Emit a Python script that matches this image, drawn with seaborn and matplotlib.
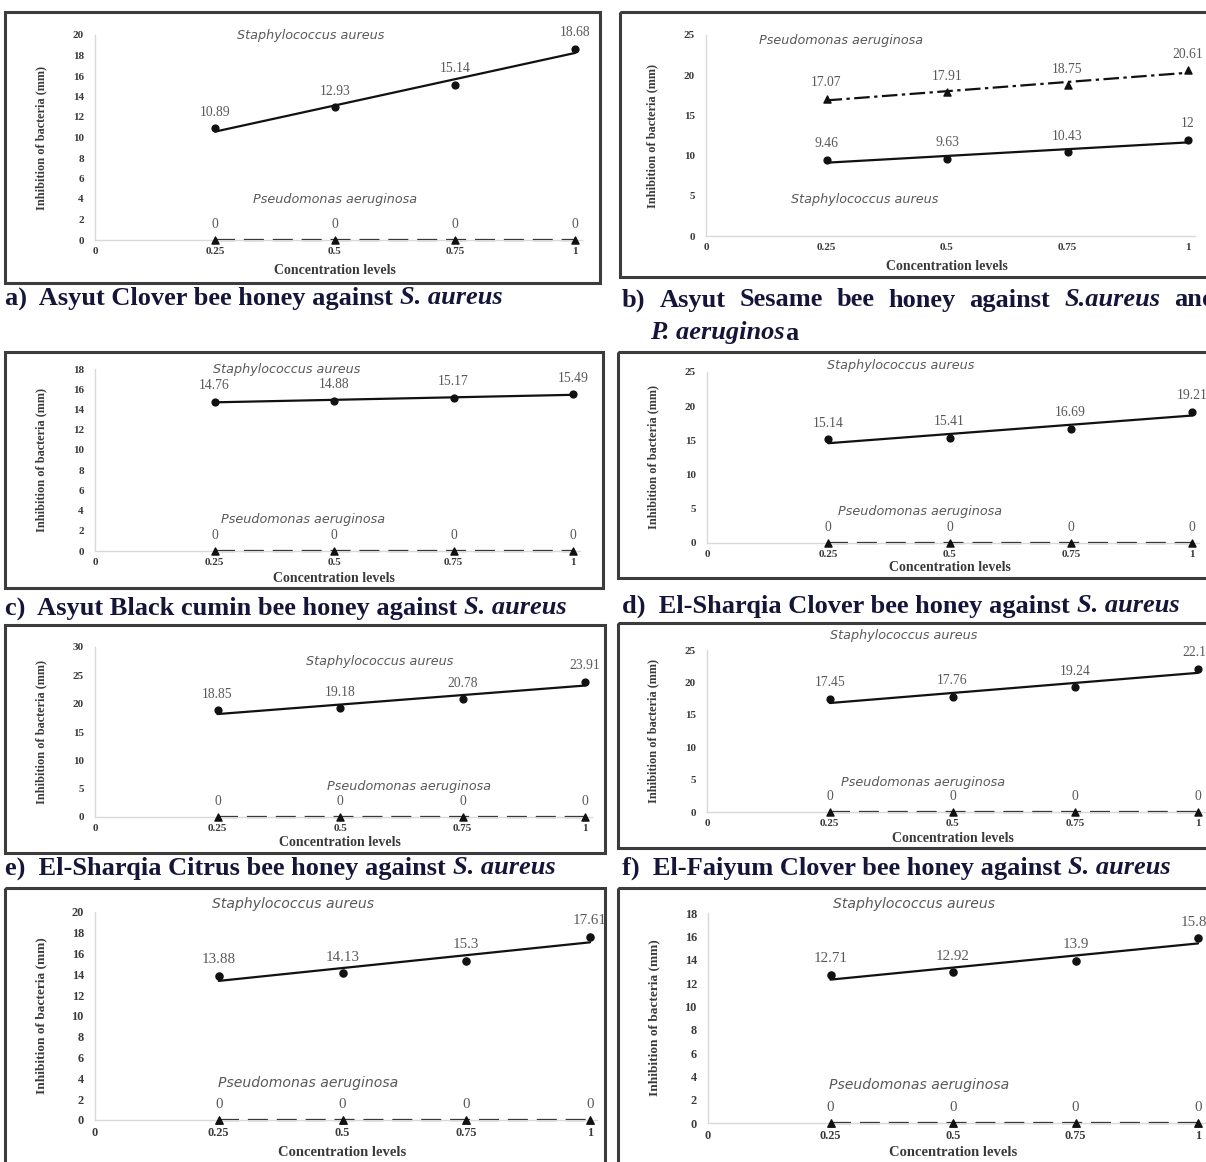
import numpy as np
import matplotlib.pyplot as plt
from matplotlib.patches import Rectangle
import seaborn as sns

sns.set_theme(style="white", font="Liberation Serif")
plt.rcParams['font.family'] = ['Liberation Serif', 'DejaVu Sans']

# concentration levels on the x axis
conc = [0.25, 0.5, 0.75, 1]
xtick_vals = [0, 0.25, 0.5, 0.75, 1]
xtick_labels = ['0', '0.25', '0.5', '0.75', '1']

# inhibition zone (mm), S. aureus / P. aeruginosa
a_sa = [10.89, 12.93, 15.14, 18.68]
a_pa = [0, 0, 0, 0]
b_sa = [9.46, 9.63, 10.43, 12]
b_pa = [17.07, 17.91, 18.75, 20.61]
c_sa = [14.76, 14.88, 15.17, 15.49]
c_pa = [0, 0, 0, 0]
d_sa = [15.14, 15.41, 16.69, 19.21]
d_pa = [0, 0, 0, 0]
e_sa = [18.85, 19.18, 20.78, 23.91]
e_pa = [0, 0, 0, 0]
f_sa = [17.45, 17.76, 19.24, 22.13]
f_pa = [0, 0, 0, 0]
g_sa = [13.88, 14.13, 15.3, 17.61]
g_pa = [0, 0, 0, 0]
h_sa = [12.71, 12.92, 13.9, 15.83]
h_pa = [0, 0, 0, 0]

W, H = 1206, 1162
XMAX = 1.015
CAP = '#15153a'
GREY = '#595959'
AXC = '#3a3a3a'
CAP_FS = 19

fig = plt.figure(figsize=(W / 100, H / 100), dpi=100)
ax0 = fig.add_axes([0, 0, 1, 1])
ax0.set_xlim(0, W)
ax0.set_ylim(H, 0)
ax0.axis('off')

# layout of each panel in pixels: box, axes (x at 0, x at 1, y at 0, y at top)
panels = [
    dict(sa=a_sa, pa=a_pa, box=(5, 12, 600, 283), axes=(95, 575, 240, 35), ymax=20, ystep=2,
         staph=(0.45, 20.0), pseudo=(0.5, 4.0), fs=1.0, xl=30, pa_ls=(0, (9, 4))),
    dict(sa=b_sa, pa=b_pa, box=(620, 12, 1212, 277), axes=(706, 1188, 236, 35), ymax=25, ystep=5,
         staph=(0.33, 4.5), pseudo=(0.28, 24.3), fs=1.0, xl=30, pa_ls=(0, (7, 2, 1.5, 2))),
    dict(sa=c_sa, pa=c_pa, box=(5, 352, 603, 588), axes=(95, 573, 551, 369), ymax=18, ystep=2,
         staph=(0.40, 18.0), pseudo=(0.435, 3.1), fs=1.0, xl=27, pa_ls=(0, (9, 4))),
    dict(sa=d_sa, pa=d_pa, box=(618, 352, 1212, 578), axes=(707, 1192, 543, 372), ymax=25, ystep=5,
         staph=(0.40, 26.0), pseudo=(0.44, 4.6), fs=1.0, xl=25, pa_ls=(0, (9, 4))),
    dict(sa=e_sa, pa=e_pa, box=(5, 625, 605, 853), axes=(95, 585, 817, 647), ymax=30, ystep=5,
         staph=(0.58, 27.5), pseudo=(0.64, 5.3), fs=1.0, xl=26, pa_ls=(0, (9, 4))),
    dict(sa=f_sa, pa=f_pa, box=(618, 623, 1212, 848), axes=(707, 1198, 812, 650), ymax=25, ystep=5,
         staph=(0.40, 27.2), pseudo=(0.44, 4.5), fs=1.0, xl=26, pa_ls=(0, (9, 4))),
    dict(sa=g_sa, pa=g_pa, box=(5, 888, 605, 1175), axes=(95, 590, 1120, 912), ymax=20, ystep=2,
         staph=(0.40, 20.8), pseudo=(0.43, 3.6), fs=1.1, xl=32, pa_ls=(0, (9, 4))),
    dict(sa=h_sa, pa=h_pa, box=(618, 888, 1212, 1175), axes=(708, 1198, 1123, 913), ymax=18, ystep=2,
         staph=(0.42, 18.8), pseudo=(0.43, 3.3), fs=1.1, xl=30, pa_ls=(0, (9, 4))),
]


def draw_panel(p):
    l, t, r, b = p['box']
    ax0.add_patch(Rectangle((l, t), r - l, b - t, fill=False, lw=2.2, ec='#3c3c3c'))
    x0, x1, y0, ytop = p['axes']
    axw = (x1 - x0) * XMAX
    axh = y0 - ytop
    ax = fig.add_axes([x0 / W, 1 - y0 / H, axw / W, axh / H])
    ax.set_facecolor('none')
    fs = p['fs']

    sns.regplot(x=conc, y=p['sa'], ax=ax, ci=None, truncate=True, color='#111111', marker='o',
                scatter_kws=dict(s=24 * fs, zorder=3, clip_on=False, alpha=1),
                line_kws=dict(lw=1.6, clip_on=False))
    sns.regplot(x=conc, y=p['pa'], ax=ax, ci=None, truncate=True, color='#111111', marker='^',
                scatter_kws=dict(s=26 * fs, zorder=3, clip_on=False, alpha=1),
                line_kws=dict(lw=1.6, ls=p['pa_ls'], clip_on=False))

    # data labels above every point
    for vals in (p['sa'], p['pa']):
        for x, v in zip(conc, vals):
            ax.annotate(f'{v:g}', (x, v), xytext=(0, 11.5), textcoords='offset points',
                        ha='center', va='center', fontsize=9.8 * fs, color=GREY)

    ax.text(*p['staph'], 'Staphylococcus aureus', ha='center', va='center', style='italic',
            family='DejaVu Sans', color=GREY, fontsize=9.2 * fs)
    ax.text(*p['pseudo'], 'Pseudomonas aeruginosa', ha='center', va='center', style='italic',
            family='DejaVu Sans', color=GREY, fontsize=9.2 * fs)

    ax.set_xlim(0, XMAX)
    ax.set_ylim(0, p['ymax'])
    ax.set_xticks(xtick_vals, xtick_labels)
    ax.set_yticks(np.arange(0, p['ymax'] + 1, p['ystep']))
    ax.tick_params(length=0, labelsize=8 * fs, labelcolor=AXC)
    ax.tick_params(axis='y', pad=8)
    ax.tick_params(axis='x', pad=5)
    for lab in ax.get_xticklabels() + ax.get_yticklabels():
        lab.set_fontweight('bold')
    sns.despine(ax=ax)
    for s in ('left', 'bottom'):
        ax.spines[s].set_color('#d9d9d9')
        ax.spines[s].set_linewidth(1)

    ax.set_ylabel('Inhibition of bacteria (mm)', fontsize=8.8 * fs, fontweight='bold',
                  color=AXC, va='center')
    ax.yaxis.set_label_coords(-54 / axw, 0.5)
    ax.set_xlabel('Concentration levels', fontsize=10 * (1 + (fs - 1) / 2), fontweight='bold',
                  color=AXC, va='center')
    ax.xaxis.set_label_coords(0.5 / XMAX, -p['xl'] / axh)


def caption(x, y, parts, gap=5.0):
    prev = None
    for s, it in parts:
        kw = dict(fontsize=CAP_FS, fontweight='bold', style='italic' if it else 'normal',
                  color=CAP, va='center', ha='left')
        if prev is None:
            prev = ax0.text(x, y, s, **kw)
        else:
            prev = ax0.annotate(s, xy=(1, 0.5), xycoords=prev, xytext=(gap, 0),
                                textcoords='offset points', **kw)
    return prev


for p in panels:
    draw_panel(p)

caption(5, 298, [('a)  Asyut Clover bee honey against', False), ('S. aureus', True)])
caption(5, 608, [('c)  Asyut Black cumin bee honey against', False), ('S. aureus', True)])
caption(5, 868, [('e)  El-Sharqia Citrus bee honey against', False), ('S. aureus', True)])
caption(622, 606, [('d)  El-Sharqia Clover bee honey against', False), ('S. aureus', True)])
caption(622, 868, [('f)  El-Faiyum Clover bee honey against', False), ('S. aureus', True)])

# justified caption b (runs past the right edge, as in the source)
caption(622, 300, [('b)', False), ('Asyut', False), ('Sesame', False), ('bee', False),
                   ('honey', False), ('against', False), ('S.aureus', True), ('and', False)],
        gap=10)
caption(650, 333, [('P. aeruginos', True), ('a', False)], gap=0)

fig.savefig('out.png', dpi=100)
